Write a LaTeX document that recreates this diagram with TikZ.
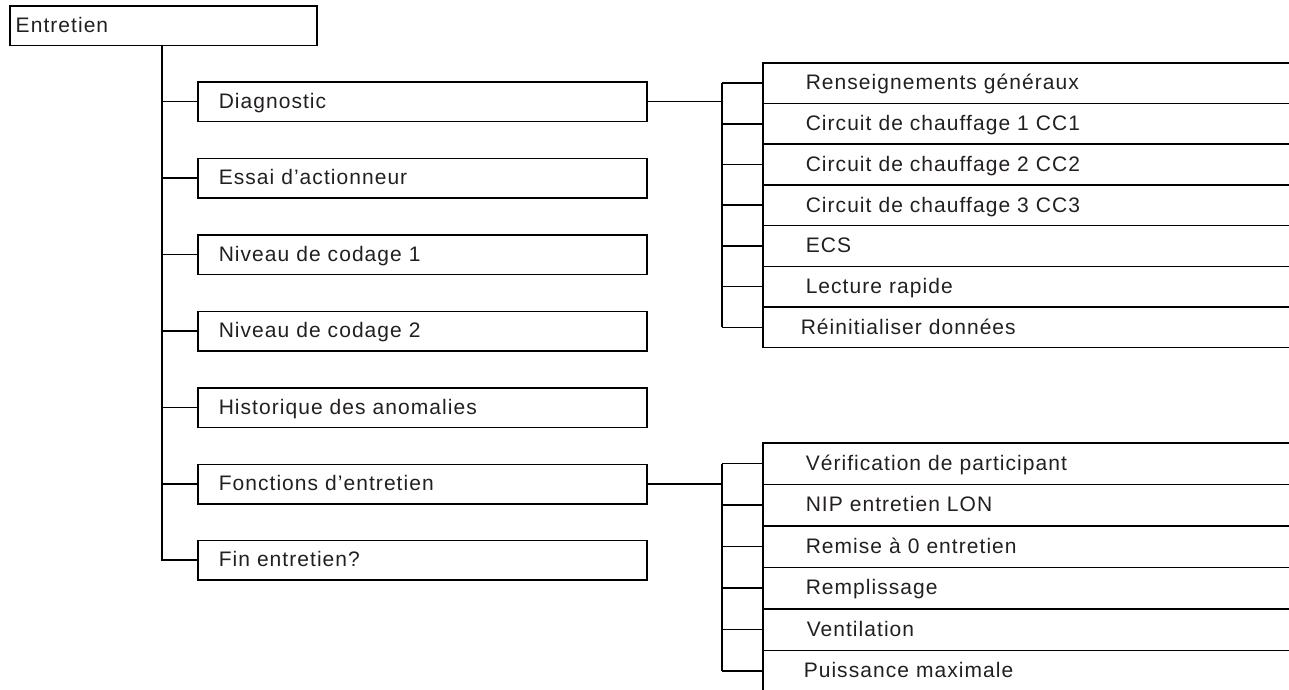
\documentclass[tikz,border=0pt]{standalone}
\usepackage{fontspec}
\setmainfont{Liberation Sans}[LetterSpace=5]
\definecolor{ink}{HTML}{231F20}
\begin{document}
\begin{tikzpicture}[x=1pt,y=-1pt,line width=1.5pt,
  font=\fontsize{21}{25}\selectfont, text=ink,
  txt/.style={text height=16pt,text depth=2.4pt,inner ysep=0pt,align=left},
  rootbox/.style={txt,draw,rectangle,minimum height=39.5pt,text width=295pt,inner xsep=6pt,anchor=west},
  mainbox/.style={txt,draw,rectangle,minimum height=39.5pt,text width=407pt,inner xsep=21pt,anchor=west},
  subbox/.style={txt,draw,rectangle,minimum height=#1,text width=474pt,inner xsep=43pt,anchor=north west},
  subbox/.default=40.7pt]
\useasboundingbox (0,0) rectangle (1289,689);
% root
\node[rootbox] (root) at (9,25.75) {Entretien};
% main boxes
\node[mainbox] (diag) at (197,101.5) {Diagnostic};
\node[mainbox] (essai) at (197,178) {Essai d’actionneur};
\node[mainbox] (niv1) at (197,254.5) {Niveau de codage 1};
\node[mainbox] (niv2) at (197,331) {Niveau de codage 2};
\node[mainbox] (hist) at (197,407.5) {Historique des anomalies};
\node[mainbox] (fonc) at (197,484) {Fonctions d’entretien};
\node[mainbox] (fin) at (197,560) {Fin entretien?};
% trunk
\coordinate (tx) at (162,0);
\draw (tx |- root.south) |- (fin.west);
\foreach \n in {diag,essai,niv1,niv2,hist,fonc}
  \draw (tx |- \n.west) -- (\n.west);
% diagnostic stack
\node[subbox] (d1) at (762,62) {Renseignements généraux};
\node[subbox] (d2) at (762,102.7) {Circuit de chauffage 1 CC1};
\node[subbox] (d3) at (762,143.4) {Circuit de chauffage 2 CC2};
\node[subbox] (d4) at (762,184.1) {Circuit de chauffage 3 CC3};
\node[subbox] (d5) at (762,224.8) {ECS};
\node[subbox] (d6) at (762,265.5) {Lecture rapide};
\node[subbox,inner xsep=38pt] (d7) at (762,306.2) {Réinitialiser données};
\coordinate (sx) at (722,0);
\draw (diag.east) -- (sx |- diag.east);
\draw (sx |- d1.west) -- (sx |- d7.west);
\foreach \n in {d1,d2,d3,d4,d5,d6,d7}
  \draw (sx |- \n.west) -- (\n.west);
% fonctions stack
\node[subbox=41.5pt] (f1) at (762,442) {Vérification de participant};
\node[subbox=41.5pt] (f2) at (762,483.5) {NIP entretien LON};
\node[subbox=41.5pt] (f3) at (762,525) {Remise à 0 entretien};
\node[subbox=41.5pt] (f4) at (762,566.5) {Remplissage};
\node[subbox=41.5pt,inner xsep=44pt] (f5) at (762,608) {Ventilation};
\node[subbox=41.5pt,inner xsep=41pt] (f6) at (762,649.5) {Puissance maximale};
\draw (fonc.east) -- (sx |- fonc.east);
\draw (sx |- f1.west) -- (sx |- f6.west);
\foreach \n in {f1,f2,f3,f4,f5,f6}
  \draw (sx |- \n.west) -- (\n.west);
\end{tikzpicture}
\end{document}
